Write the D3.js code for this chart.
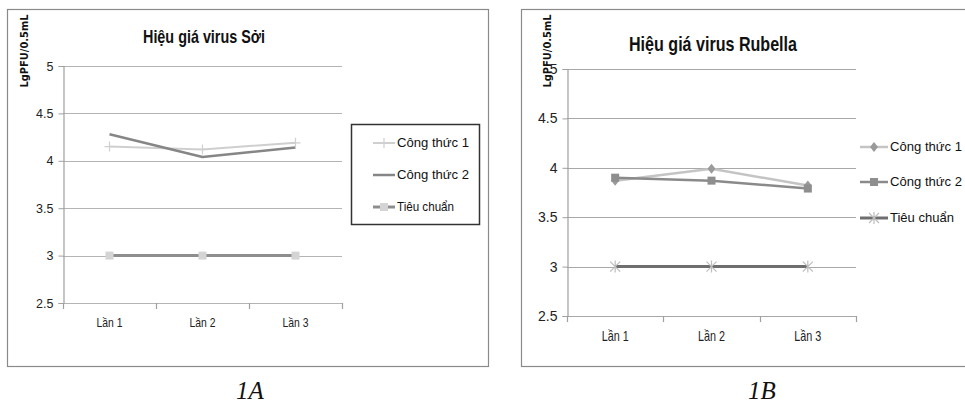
<!DOCTYPE html>
<html>
<head>
<meta charset="utf-8">
<script src="https://cdn.jsdelivr.net/npm/d3@7"></script>
<style>
  html, body { margin: 0; padding: 0; background: #fff; }
  svg { display: block; }
</style>
</head>
<body>
<svg id="fig" width="965" height="405"></svg>
<script>
// Titre values (LgPFU/0.5mL) for each batch
const categories = ["Lần 1", "Lần 2", "Lần 3"];
const yTicks = [2.5, 3, 3.5, 4, 4.5, 5];
const seriesNames = ["Công thức 1", "Công thức 2", "Tiêu chuẩn"];

const soiCT1 = [4.15, 4.12, 4.19];
const soiCT2 = [4.28, 4.04, 4.14];
const soiStd = [3, 3, 3];

const rubCT1 = [3.87, 3.99, 3.82];
const rubCT2 = [3.90, 3.87, 3.79];
const rubStd = [3, 3, 3];

const svg = d3.select("#fig");
const sans = "'Liberation Sans', Arial, sans-serif";

// squeeze a text horizontally into a given width (condensed look)
function fit(sel, w) {
  sel.attr("textLength", w).attr("lengthAdjust", "spacingAndGlyphs");
  return sel;
}

function marker(g, type, x, y, color) {
  if (type === "plus") {
    g.append("path").attr("d", `M${x - 5},${y}H${x + 5}M${x},${y - 5}V${y + 5}`)
      .attr("stroke", color).attr("stroke-width", 1.2).attr("fill", "none");
  } else if (type === "square") {
    g.append("rect").attr("x", x - 4).attr("y", y - 4).attr("width", 8).attr("height", 8)
      .attr("fill", color);
  } else if (type === "diamond") {
    g.append("path").attr("d", `M${x},${y - 5}L${x + 4},${y}L${x},${y + 5}L${x - 4},${y}Z`)
      .attr("fill", color);
  } else if (type === "star") {
    g.append("path")
      .attr("d", `M${x - 5},${y - 5}L${x + 5},${y + 5}M${x - 5},${y + 5}L${x + 5},${y - 5}M${x},${y - 6}V${y + 6}`)
      .attr("stroke", color).attr("stroke-width", 1.2).attr("fill", "none");
  }
}

function drawChart(cfg) {
  const g = svg.append("g");

  // outer chart frame
  g.append("rect")
    .attr("x", cfg.frame[0] + 0.5).attr("y", cfg.frame[1] + 0.5)
    .attr("width", cfg.frame[2]).attr("height", cfg.frame[3])
    .attr("fill", "none").attr("stroke", "#8a8a8a").attr("stroke-width", 1.2);

  const x = d3.scaleBand().domain(categories).range([cfg.left, cfg.right]).padding(0);
  const y = d3.scaleLinear().domain([2.5, 5]).range([cfg.bottom, cfg.top]);
  const cx = c => x(c) + x.bandwidth() / 2;

  // horizontal gridlines
  g.append("g").selectAll("line").data(yTicks).join("line")
    .attr("x1", cfg.left).attr("x2", cfg.right)
    .attr("y1", d => Math.round(y(d)) + 0.5).attr("y2", d => Math.round(y(d)) + 0.5)
    .attr("stroke", cfg.gridColor).attr("stroke-width", 1.2);

  // y axis
  const yAxis = g.append("g")
    .attr("transform", `translate(${cfg.left + 0.5},0)`)
    .call(d3.axisLeft(y).tickValues(yTicks).tickSize(5).tickPadding(cfg.yPad).tickFormat(d3.format("")));
  yAxis.select(".domain").attr("stroke", "#a0a0a0").attr("stroke-width", 1.2);
  yAxis.selectAll(".tick line").attr("stroke", "#a0a0a0");
  yAxis.selectAll("text").attr("font-family", sans).attr("font-size", cfg.tickFont).attr("fill", "#222");

  // x axis: ticks sit on category boundaries
  const edges = categories.map(c => x(c)).concat([cfg.right]);
  g.append("g").selectAll("line").data(edges).join("line")
    .attr("x1", d => Math.round(d) + 0.5).attr("x2", d => Math.round(d) + 0.5)
    .attr("y1", Math.round(cfg.bottom)).attr("y2", Math.round(cfg.bottom) + 6)
    .attr("stroke", "#a0a0a0").attr("stroke-width", 1.2);
  fit(g.append("g").selectAll("text").data(categories).join("text")
    .attr("x", d => cx(d)).attr("y", cfg.xLabelY)
    .attr("text-anchor", "middle").attr("dominant-baseline", "middle")
    .attr("font-family", sans).attr("font-size", cfg.xFont).attr("fill", "#222")
    .text(d => d), cfg.xLabelW);

  // title
  fit(g.append("text").attr("x", cfg.titleX).attr("y", cfg.titleY)
    .attr("text-anchor", "middle").attr("dominant-baseline", "middle")
    .attr("font-family", sans).attr("font-weight", "bold").attr("font-size", cfg.titleFont)
    .attr("fill", "#111").text(cfg.title), cfg.titleW);

  // y axis title
  fit(g.append("text")
    .attr("transform", `translate(${cfg.yLabelX},${cfg.yLabelY}) rotate(-90)`)
    .attr("text-anchor", "middle").attr("dominant-baseline", "middle")
    .attr("font-family", "'DejaVu Sans', sans-serif").attr("font-weight", "bold")
    .attr("font-size", 10.5).attr("fill", "#111").text("LgPFU/0.5mL"), 73);

  // series lines and markers
  const line = d3.line().x((d, i) => cx(categories[i])).y(d => y(d));
  cfg.series.forEach(s => {
    g.append("path").datum(s.values).attr("d", line)
      .attr("fill", "none").attr("stroke", s.color).attr("stroke-width", s.width)
      .attr("stroke-linejoin", "round");
  });
  cfg.series.forEach(s => {
    if (!s.marker) return;
    s.values.forEach((v, i) => marker(g, s.marker, cx(categories[i]), y(v), s.markerColor));
  });

  // legend
  const L = cfg.legend;
  if (L.box) {
    g.append("rect").attr("x", L.box[0] + 0.5).attr("y", L.box[1] + 0.5)
      .attr("width", L.box[2]).attr("height", L.box[3])
      .attr("fill", "#fff").attr("stroke", "#333").attr("stroke-width", 1.5);
  }
  cfg.series.forEach((s, i) => {
    const ly = L.rows[i];
    g.append("line").attr("x1", L.x1).attr("x2", L.x2).attr("y1", ly).attr("y2", ly)
      .attr("stroke", s.color).attr("stroke-width", s.width);
    if (s.marker) marker(g, s.marker, (L.x1 + L.x2) / 2, ly, s.markerColor);
    fit(g.append("text").attr("x", L.tx).attr("y", ly)
      .attr("dominant-baseline", "middle")
      .attr("font-family", sans).attr("font-size", L.font).attr("fill", "#111")
      .text(seriesNames[i]), L.widths[i]);
  });

  // figure caption
  svg.append("text").attr("x", cfg.capX).attr("y", 399)
    .attr("text-anchor", "middle")
    .attr("font-family", "'Liberation Serif', 'Times New Roman', serif")
    .attr("font-style", "italic").attr("font-size", 25).attr("fill", "#111")
    .text(cfg.caption);
}

drawChart({
  frame: [7, 9, 481, 357],
  left: 63, right: 342, top: 66, bottom: 303,
  gridColor: "#b4b4b4",
  yPad: 5, tickFont: 12.5, xFont: 13.5, xLabelW: 26, xLabelY: 323,
  title: "Hiệu giá virus Sởi", titleX: 204, titleY: 38, titleFont: 18.5, titleW: 122,
  yLabelX: 25, yLabelY: 51,
  series: [
    { values: soiCT1, color: "#cfcfcf", width: 2, marker: "plus", markerColor: "#d0d0d0" },
    { values: soiCT2, color: "#868686", width: 2.5, marker: null },
    { values: soiStd, color: "#8e8e8e", width: 3, marker: "square", markerColor: "#d4d4d4" }
  ],
  legend: { box: [351, 124, 128, 100], x1: 373, x2: 395, tx: 397, rows: [143, 175, 207],
            font: 13.5, widths: [72, 72, 57] },
  caption: "1A", capX: 250
});

drawChart({
  frame: [521, 9, 460, 357],
  left: 567, right: 856, top: 69, bottom: 316,
  gridColor: "#a8a8a8",
  yPad: 5, tickFont: 14, xFont: 14.5, xLabelW: 27, xLabelY: 337,
  title: "Hiệu giá virus Rubella", titleX: 713, titleY: 45, titleFont: 21, titleW: 168,
  yLabelX: 548, yLabelY: 51,
  series: [
    { values: rubCT1, color: "#c4c4c4", width: 2.5, marker: "diamond", markerColor: "#9a9a9a" },
    { values: rubCT2, color: "#8a8a8a", width: 2.5, marker: "square", markerColor: "#8e8e8e" },
    { values: rubStd, color: "#6e6e6e", width: 3, marker: "star", markerColor: "#bdbdbd" }
  ],
  legend: { box: null, x1: 860, x2: 888, tx: 890, rows: [147, 182, 218],
            font: 13.5, widths: [72, 72, 64] },
  caption: "1B", capX: 762
});
</script>
</body>
</html>
